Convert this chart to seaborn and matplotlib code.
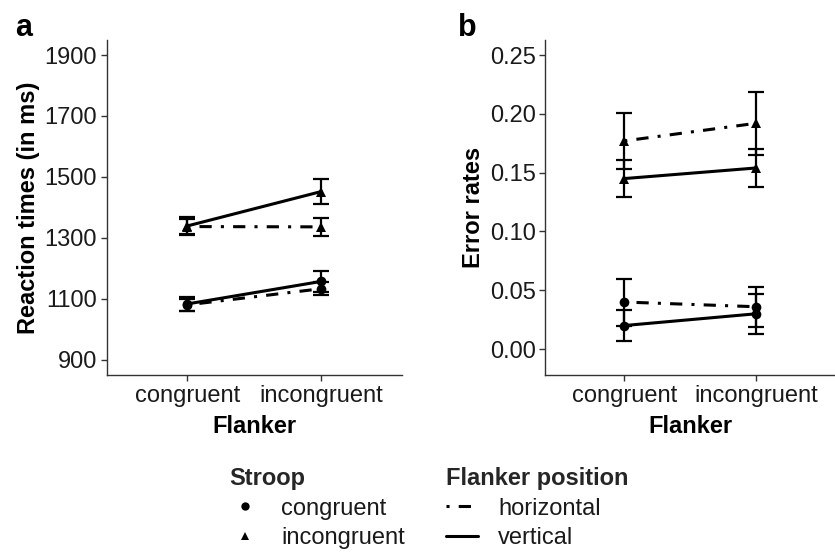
import matplotlib
matplotlib.use("Agg")
import matplotlib.pyplot as plt
from matplotlib.lines import Line2D
import seaborn as sns
import pandas as pd

# Condition labels
flanker = ["congruent", "incongruent"]
stroop = ["congruent", "incongruent"]
position = ["horizontal", "vertical"]

# Reaction times (ms): mean and standard error per Flanker level
rt_sc_h = [1080, 1133]
rt_sc_h_se = [19, 22]
rt_sc_v = [1083, 1157]
rt_sc_v_se = [24, 35]
rt_si_h = [1337, 1336]
rt_si_h_se = [25, 30]
rt_si_v = [1339, 1452]
rt_si_v_se = [30, 42]

# Error rates: mean and standard error per Flanker level
er_sc_h = [0.040, 0.036]
er_sc_h_se = [0.020, 0.017]
er_sc_v = [0.020, 0.030]
er_sc_v_se = [0.013, 0.017]
er_si_h = [0.177, 0.192]
er_si_h_se = [0.024, 0.027]
er_si_v = [0.145, 0.154]
er_si_v_se = [0.016, 0.016]

rt_yticks = [900, 1100, 1300, 1500, 1700, 1900]
er_yticks = [0.00, 0.05, 0.10, 0.15, 0.20, 0.25]


def make_frame(groups):
    rows = []
    for (s, p, means, ses) in groups:
        for f, m, e in zip(flanker, means, ses):
            rows.append({"Flanker": f, "Stroop": s, "Position": p, "mean": m, "se": e})
    return pd.DataFrame(rows)


rt_df = make_frame([
    (stroop[0], position[0], rt_sc_h, rt_sc_h_se),
    (stroop[0], position[1], rt_sc_v, rt_sc_v_se),
    (stroop[1], position[0], rt_si_h, rt_si_h_se),
    (stroop[1], position[1], rt_si_v, rt_si_v_se),
])
er_df = make_frame([
    (stroop[0], position[0], er_sc_h, er_sc_h_se),
    (stroop[0], position[1], er_sc_v, er_sc_v_se),
    (stroop[1], position[0], er_si_h, er_si_h_se),
    (stroop[1], position[1], er_si_v, er_si_v_se),
])

sns.set_theme(style="ticks")
plt.rcParams["font.family"] = ["Liberation Sans", "DejaVu Sans"]

FS = 17
INK = "black"
LW = 2.2
DOTDASH = (0, (1, 3, 4, 3))
marker_map = {"congruent": "o", "incongruent": "^"}
style_map = {"horizontal": DOTDASH, "vertical": "-"}

fig = plt.figure(figsize=(8.35, 5.53), dpi=100)
ax_a = fig.add_axes([0.128, 0.322, 0.353, 0.606])
ax_b = fig.add_axes([0.653, 0.322, 0.347, 0.606])


def draw_panel(ax, df, ylim, yticks, ylabel, fmt):
    for (s, p), sub in df.groupby(["Stroop", "Position"], sort=False):
        ax.errorbar(sub["Flanker"], sub["mean"], yerr=sub["se"], fmt="none",
                    ecolor=INK, elinewidth=1.6, capsize=6, capthick=1.6, zorder=2)
        sns.lineplot(data=sub, x="Flanker", y="mean", ax=ax, color=INK,
                     linewidth=LW, marker=marker_map[s], markersize=7,
                     markeredgewidth=0, sort=False, zorder=3,
                     dash_capstyle="butt")
        ax.lines[-1].set_linestyle(style_map[p])
    ax.set_xlim(-0.6, 1.6)
    ax.set_ylim(*ylim)
    ax.set_yticks(yticks)
    ax.set_yticklabels([fmt(v) for v in yticks])
    ax.set_xlabel("Flanker", fontsize=FS, fontweight="bold", color=INK, labelpad=6)
    ax.set_ylabel(ylabel, fontsize=FS, fontweight="bold", color=INK, labelpad=3)
    ax.tick_params(axis="both", labelsize=FS, colors="#333333", length=4,
                   width=1.0, labelcolor="#1a1a1a", pad=3)
    for side in ("top", "right"):
        ax.spines[side].set_visible(False)
    for side in ("left", "bottom"):
        ax.spines[side].set_color("#333333")
        ax.spines[side].set_linewidth(1.0)
    if ax.get_legend() is not None:
        ax.get_legend().remove()


draw_panel(ax_a, rt_df, (850, 1950), rt_yticks, "Reaction times (in ms)", lambda v: f"{v:d}")
draw_panel(ax_b, er_df, (-0.022, 0.263), er_yticks, "Error rates", lambda v: f"{v:.2f}")

fig.text(0.018, 0.935, "a", fontsize=22, fontweight="bold", color=INK)
fig.text(0.548, 0.935, "b", fontsize=22, fontweight="bold", color=INK)

# Legends below the panels
stroop_handles = [Line2D([], [], color=INK, linestyle="none", marker=marker_map[s],
                         markersize=6, markeredgewidth=0) for s in stroop]
pos_handles = [Line2D([], [], color=INK, linewidth=LW, linestyle=style_map[p],
                      dash_capstyle="butt") for p in position]

common = dict(frameon=False, fontsize=FS, handlelength=1.35, handletextpad=0.85,
              labelspacing=0.32, borderpad=0, borderaxespad=0,
              title_fontproperties={"weight": "bold", "size": FS})
leg1 = fig.legend(stroop_handles, stroop, title="Stroop", loc="upper left",
                  bbox_to_anchor=(229 / 835, 1 - 467 / 553), **common)
leg1._legend_box.align = "left"
leg2 = fig.legend(pos_handles, position, title="Flanker position", loc="upper left",
                  bbox_to_anchor=(446 / 835, 1 - 467 / 553), **common)
leg2._legend_box.align = "left"
for leg in (leg1, leg2):
    for t in leg.get_texts():
        t.set_color("#1a1a1a")

fig.savefig("out.png", dpi=100)
